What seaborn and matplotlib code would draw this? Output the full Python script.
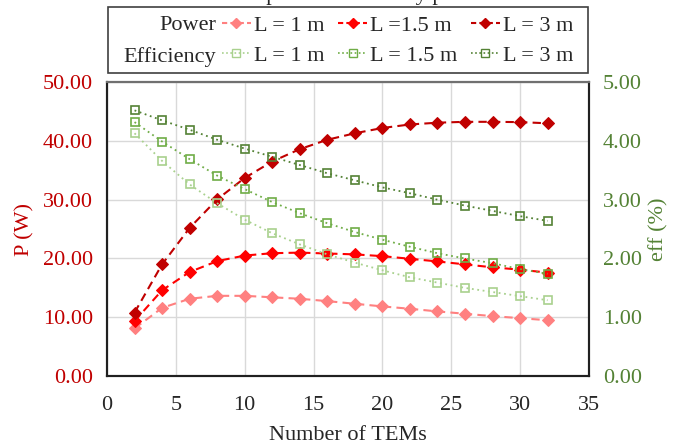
import matplotlib
matplotlib.use("Agg")
import matplotlib.pyplot as plt
from matplotlib.lines import Line2D
from matplotlib.patches import Rectangle
from matplotlib.ticker import FormatStrFormatter
import seaborn as sns

tems = [2, 4, 6, 8, 10, 12, 14, 16, 18, 20, 22, 24, 26, 28, 30, 32]

# output power (W)
power_1m = [8.1, 11.6, 13.15, 13.65, 13.65, 13.4, 13.15, 12.75, 12.3, 11.85, 11.45, 11.0, 10.6, 10.2, 9.85, 9.5]
power_15m = [9.35, 14.6, 17.7, 19.55, 20.5, 20.9, 21.0, 20.85, 20.7, 20.4, 19.95, 19.5, 19.0, 18.5, 18.1, 17.6]
power_3m = [10.8, 19.0, 25.2, 30.05, 33.7, 36.5, 38.6, 40.2, 41.3, 42.2, 42.8, 43.1, 43.25, 43.25, 43.2, 43.0]

# efficiency (%)
eff_1m = [4.13, 3.66, 3.26, 2.94, 2.66, 2.43, 2.24, 2.07, 1.93, 1.80, 1.68, 1.59, 1.50, 1.43, 1.36, 1.29]
eff_15m = [4.32, 3.99, 3.69, 3.41, 3.18, 2.96, 2.77, 2.60, 2.45, 2.32, 2.20, 2.09, 2.00, 1.92, 1.82, 1.74]
eff_3m = [4.52, 4.35, 4.19, 4.02, 3.87, 3.73, 3.59, 3.45, 3.33, 3.21, 3.11, 3.00, 2.90, 2.81, 2.72, 2.64]

power_labels = ["L = 1 m", "L =1.5 m", "L = 3 m"]
eff_labels = ["L = 1 m", "L = 1.5 m", "L = 3 m"]
power_colors = ["#FF8080", "#FF0000", "#C00000"]
eff_colors = ["#A9D18E", "#70AD47", "#548235"]

sns.set_style("white")
plt.rcParams["font.family"] = ["Liberation Serif", "DejaVu Serif"]
plt.rcParams["font.size"] = 16

fig = plt.figure(figsize=(6.73, 4.44), dpi=100)
ax = fig.add_axes([0.159, 0.153, 0.716, 0.662])
ax2 = ax.twinx()

for vals, col in zip([power_1m, power_15m, power_3m], power_colors):
    sns.lineplot(x=tems, y=vals, ax=ax, color=col, linestyle=(0, (4, 2.5)), linewidth=1.5,
                 marker="D", markersize=6, markeredgecolor=col, markerfacecolor=col)

for vals, col in zip([eff_1m, eff_15m, eff_3m], eff_colors):
    sns.lineplot(x=tems, y=vals, ax=ax2, color=col, linestyle=(0, (1, 2)), linewidth=1.3,
                 marker="s", markersize=6, markeredgecolor=col, markerfacecolor="none",
                 markeredgewidth=1.2)

ax.set_xlim(0, 35)
ax.set_ylim(0, 50)
ax2.set_ylim(0, 5)
ax.set_xticks(range(0, 36, 5))
ax.set_yticks(range(0, 51, 10))
ax2.set_yticks([0, 1, 2, 3, 4, 5])
ax.yaxis.set_major_formatter(FormatStrFormatter("%.2f"))
ax2.yaxis.set_major_formatter(FormatStrFormatter("%.2f"))
ax.grid(True, color="#D9D9D9", linewidth=1)
ax2.grid(False)
ax.tick_params(axis="y", colors="#C00000", length=0, pad=10)
ax2.tick_params(axis="y", colors="#548235", length=0, pad=10)
ax.tick_params(axis="x", length=0, pad=14)

ax.set_xlabel("Number of TEMs", labelpad=8)
ax.set_ylabel("P (W)", color="#C00000", labelpad=6)
ax2.set_ylabel("eff (%)", color="#548235", labelpad=5)

for a in (ax, ax2):
    for s in a.spines.values():
        s.set_color("#202020")
        s.set_linewidth(1.5)
ax2.spines["top"].set_color("#707070")

# legend
handles, labels = [], []
for i in range(3):
    handles.append(Line2D([], [], color=power_colors[i], linestyle=(0, (2.5, 1.5)), linewidth=1.5,
                          marker="D", markersize=5, markerfacecolor=power_colors[i]))
    labels.append(power_labels[i])
    handles.append(Line2D([], [], color=eff_colors[i], linestyle=(0, (1, 1.5)), linewidth=1.2,
                          marker="s", markersize=6, markerfacecolor="none"))
    labels.append(eff_labels[i])
fig.legend(handles, labels, ncol=3, frameon=False, loc="upper left",
           bbox_to_anchor=(222 / 673, 1 - 15 / 444), handlelength=1.3, handletextpad=0.15,
           columnspacing=0.6, labelspacing=0.45, borderpad=0, borderaxespad=0)
fig.text(216 / 673, 1 - 26 / 444, "Power", ha="right", va="center")
fig.text(216 / 673, 1 - 57 / 444, "Efficiency", ha="right", va="center")
fig.patches.append(Rectangle((108 / 673, 1 - 73 / 444), 480 / 673, 66 / 444,
                             transform=fig.transFigure, fill=False,
                             edgecolor="#404040", linewidth=1.2))

fig.text(0.52, 1.0, "Output and efficiency plot", ha="center", va="baseline")

fig.savefig("out.png", dpi=100)
